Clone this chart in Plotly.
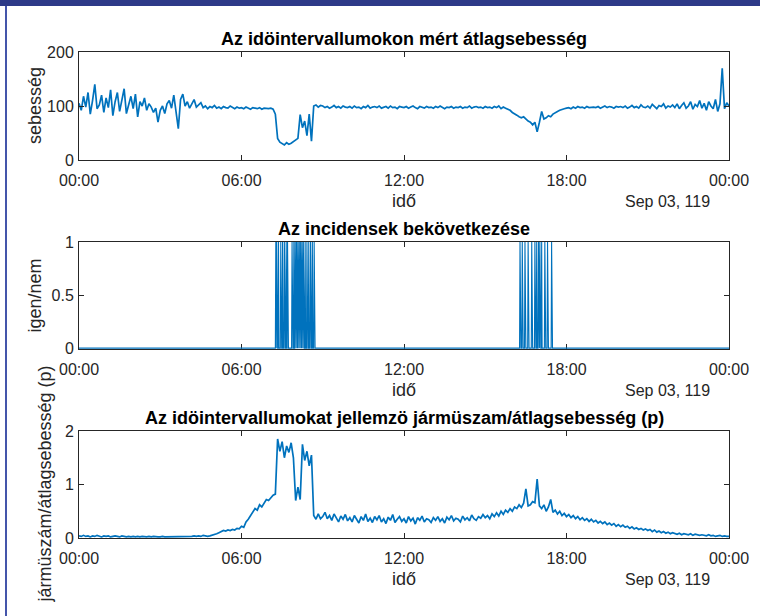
import plotly.graph_objects as go

# ---------------- data ----------------
step_min = 5  # sampling step of the speed / ratio series (minutes)

# average speed (sebesség), one value every 5 minutes, 00:00 .. 24:00
speed = [
    105, 92, 118, 98, 125, 85, 110, 140, 95, 102, 120, 88,      # 00h
    115, 97, 130, 82, 108, 125, 90, 112, 132, 86, 104, 118,     # 01h
    95, 122, 80, 108, 100, 115, 92, 104, 98, 88, 96, 70,        # 02h
    92, 100, 86, 104, 110, 96, 120, 88, 58, 112, 122, 100,      # 03h
    108, 96, 104, 112, 98, 102, 106, 97, 100, 95, 99, 97,       # 04h
    101, 96, 98, 95, 99, 97, 96, 100, 97, 95, 98, 96,           # 05h
    97, 95, 98, 96, 94, 97, 96, 95, 97, 94, 96, 95,             # 06h
    95, 96, 94, 85, 40, 33, 30, 28, 32, 29, 31, 34,             # 07h
    36, 40, 84, 60, 72, 45, 85, 35, 100, 102, 98, 101,          # 08h
    100, 97, 99, 96, 98, 101, 97, 99, 96, 100, 98, 97,          # 09h
    99, 96, 100, 97, 98, 95, 99, 97, 101, 96, 98, 99,           # 10h
    97, 100, 96, 98, 99, 96, 100, 97, 98, 95, 99, 98,           # 11h
    97, 99, 96, 98, 100, 97, 95, 99, 98, 96, 99, 97,            # 12h
    98, 96, 99, 97, 100, 98, 95, 98, 97, 99, 96, 98,            # 13h
    97, 99, 96, 98, 97, 100, 96, 98, 99, 97, 98, 96,            # 14h
    99, 97, 98, 96, 99, 97, 100, 95, 98, 96, 94, 92,            # 15h
    88, 86, 83, 80, 78, 80, 75, 72, 70, 65, 70, 52,             # 16h
    70, 90, 76, 78, 82, 80, 85, 88, 90, 92, 94, 95,             # 17h
    96, 97, 95, 98, 96, 99, 97, 98, 96, 99, 97, 98,             # 18h
    98, 97, 99, 96, 98, 100, 97, 99, 98, 96, 99, 98,            # 19h
    99, 97, 100, 96, 98, 101, 97, 99, 96, 102, 98, 97,          # 20h
    100, 96, 103, 98, 95, 101, 99, 104, 96, 100, 98, 102,       # 21h
    97, 104, 95, 101, 106, 96, 100, 108, 94, 103, 99, 110,      # 22h
    96, 105, 92, 108, 100, 95, 112, 90, 104, 170, 95, 106,      # 23h
    100,                                                        # 24:00
]

# vehicle count / average speed (p), one value every 5 minutes
ratio = [
    0.04, 0.03, 0.05, 0.03, 0.04, 0.02, 0.04, 0.03, 0.05, 0.03, 0.02, 0.04,  # 00h
    0.03, 0.04, 0.02, 0.03, 0.04, 0.03, 0.02, 0.04, 0.03, 0.02, 0.03, 0.02,  # 01h
    0.03, 0.02, 0.03, 0.02, 0.03, 0.02, 0.02, 0.03, 0.02, 0.03, 0.02, 0.02,  # 02h
    0.02, 0.03, 0.02, 0.02, 0.03, 0.02, 0.02, 0.03, 0.02, 0.02, 0.03, 0.02,  # 03h
    0.03, 0.02, 0.03, 0.04, 0.03, 0.04, 0.03, 0.05, 0.04, 0.03, 0.04, 0.05,  # 04h
    0.06, 0.08, 0.10, 0.12, 0.14, 0.13, 0.15, 0.14, 0.16, 0.15, 0.18, 0.17,  # 05h
    0.22, 0.20, 0.30, 0.35, 0.42, 0.48, 0.55, 0.52, 0.62, 0.58, 0.66, 0.72,  # 06h
    0.70, 0.76, 0.80, 0.82, 1.85, 1.62, 1.80, 1.50, 1.72, 1.60, 1.78, 1.50,  # 07h
    0.70, 0.95, 0.72, 1.75, 1.45, 1.62, 1.35, 1.55, 0.42, 0.35, 0.45, 0.36,  # 08h
    0.40, 0.48, 0.36, 0.42, 0.33, 0.45, 0.38, 0.30, 0.41, 0.35, 0.44, 0.32,  # 09h
    0.38, 0.30, 0.42, 0.35, 0.28, 0.40, 0.33, 0.45, 0.31, 0.37, 0.29, 0.40,  # 10h
    0.34, 0.42, 0.30, 0.36, 0.27, 0.39, 0.33, 0.44, 0.29, 0.35, 0.40, 0.31,  # 11h
    0.36, 0.28, 0.40, 0.32, 0.37, 0.26, 0.38, 0.33, 0.41, 0.30, 0.36, 0.34,  # 12h
    0.29, 0.38, 0.33, 0.40, 0.31, 0.36, 0.28, 0.39, 0.34, 0.42, 0.32, 0.37,  # 13h
    0.35, 0.30, 0.41, 0.34, 0.38, 0.32, 0.43, 0.36, 0.33, 0.40, 0.37, 0.44,  # 14h
    0.38, 0.42, 0.36, 0.45, 0.40, 0.47, 0.41, 0.50, 0.44, 0.52, 0.48, 0.55,  # 15h
    0.50, 0.58, 0.55, 0.62, 0.57, 0.65, 0.92, 0.60, 0.62, 0.68, 0.66, 1.10,  # 16h
    0.60, 0.55, 0.62, 0.50, 0.58, 0.72, 0.48, 0.52, 0.45, 0.50, 0.42, 0.46,  # 17h
    0.40, 0.44, 0.38, 0.42, 0.36, 0.40, 0.34, 0.38, 0.33, 0.36, 0.31, 0.35,  # 18h
    0.30, 0.33, 0.28, 0.31, 0.27, 0.30, 0.25, 0.28, 0.24, 0.27, 0.22, 0.25,  # 19h
    0.21, 0.24, 0.20, 0.22, 0.18, 0.21, 0.17, 0.19, 0.16, 0.18, 0.15, 0.17,  # 20h
    0.14, 0.16, 0.12, 0.15, 0.11, 0.13, 0.10, 0.12, 0.09, 0.11, 0.08, 0.10,  # 21h
    0.08, 0.07, 0.09, 0.06, 0.08, 0.07, 0.06, 0.08, 0.05, 0.07, 0.06, 0.05,  # 22h
    0.06, 0.05, 0.04, 0.06, 0.04, 0.05, 0.03, 0.04, 0.05, 0.03, 0.04, 0.03,  # 23h
    0.03,                                                                    # 24:00
]

# minutes of the day at which an incident was flagged (igen = 1)
incident_minutes = [
    436, 438, 442, 447, 451, 455, 459, 462,
    472, 476, 479, 482, 485, 488, 491, 494, 497, 501, 505, 509, 513, 517, 521,
    977, 982, 988, 995, 1003, 1010, 1014, 1018, 1021, 1025, 1032, 1038, 1047,
]

x_tickvals = [0, 6, 12, 18, 24]
x_ticktext = ["00:00", "06:00", "12:00", "18:00", "00:00"]

titles = [
    "Az idöintervallumokon mért átlagsebesség",
    "Az incidensek bekövetkezése",
    "Az idöintervallumokat jellemzö jármüszam/átlagsebesség (p)",
]
ylabels = ["sebesség", "igen/nem", "jármüszám/átlagsebesség (p)"]
xlabel = "idő"
date_label = "Sep 03, 119"

# ---------------- build ----------------
W, H = 760, 616
t5 = [i * step_min / 60 for i in range(len(speed))]
inc_set = set(incident_minutes)
t1 = [m / 60 for m in range(24 * 60 + 1)]
incident = [1 if m in inc_set else 0 for m in range(24 * 60 + 1)]

LINE = "#0072BD"
AX = "#262626"
FONT = "Liberation Sans, Arial, sans-serif"


def px(x):
    return x / W


def py(y):
    return 1 - y / H


fig = go.Figure()
fig.add_trace(go.Scatter(x=t5, y=speed, mode="lines", line=dict(color=LINE, width=1.7),
                         xaxis="x", yaxis="y", showlegend=False))
fig.add_trace(go.Scatter(x=t1, y=incident, mode="lines", line=dict(color=LINE, width=1.1),
                         xaxis="x2", yaxis="y2", showlegend=False))
fig.add_trace(go.Scatter(x=t5, y=ratio, mode="lines", line=dict(color=LINE, width=1.7),
                         xaxis="x3", yaxis="y3", showlegend=False))

# plot-area pixel boxes (left, right, top, bottom)
L, R = 79, 729
boxes = [(52, 160), (242, 349), (431, 538)]
yranges = [[0, 200], [-0.008, 1], [0, 2]]
ytickvals = [[0, 100, 200], [0, 0.5, 1], [0, 1, 2]]
yticktext = [["0", "100", "200"], ["0", "0.5", "1"], ["0", "1", "2"]]

common = dict(showline=True, linecolor=AX, linewidth=1, mirror="ticks", ticks="inside",
              ticklen=5, tickcolor=AX, tickwidth=1, showgrid=False, zeroline=False,
              automargin=False, tickfont=dict(family=FONT, size=16, color=AX))

layout = dict(width=W, height=H, margin=dict(l=0, r=0, t=0, b=0, pad=0, autoexpand=False),
              paper_bgcolor="white", plot_bgcolor="white", showlegend=False)

annotations = []
for k, (top, bot) in enumerate(boxes):
    sx = "" if k == 0 else str(k + 1)
    layout["xaxis" + sx] = dict(common, domain=[px(L), px(R)], range=[0, 24],
                                tickvals=x_tickvals, ticktext=x_ticktext,
                                anchor="y" + sx, ticklabelstandoff=6,
                                layer="below traces" if k == 1 else "above traces")
    layout["yaxis" + sx] = dict(common, domain=[py(bot), py(top)], range=yranges[k],
                                tickvals=ytickvals[k], ticktext=yticktext[k],
                                anchor="x" + sx, ticklabelstandoff=1)
    cx = (L + R) / 2
    annotations.append(dict(text="<b>" + titles[k] + "</b>", x=px(cx), y=py(top - 13),
                            xref="paper", yref="paper", showarrow=False,
                            xanchor="center", yanchor="middle",
                            font=dict(family=FONT, size=18, color="black")))
    annotations.append(dict(text=xlabel, x=px(cx), y=py(bot + 41), xref="paper", yref="paper",
                            showarrow=False, xanchor="center", yanchor="middle",
                            font=dict(family=FONT, size=18, color=AX)))
    annotations.append(dict(text=date_label, x=px(712), y=py(bot + 41), xref="paper", yref="paper",
                            showarrow=False, xanchor="right", yanchor="middle",
                            font=dict(family=FONT, size=16, color=AX)))
    ylx = 44 if k == 2 else 35
    annotations.append(dict(text=ylabels[k], x=px(ylx), y=py((top + bot) / 2), xref="paper",
                            yref="paper", showarrow=False, textangle=-90,
                            xanchor="center", yanchor="middle",
                            font=dict(family=FONT, size=18, color=AX)))

layout["annotations"] = annotations
layout["shapes"] = [
    dict(type="rect", xref="paper", yref="paper", x0=0, x1=1, y0=py(6), y1=1,
         fillcolor="#2D3A88", line=dict(width=0), layer="above"),
    dict(type="line", xref="paper", yref="paper", x0=px(6), x1=px(6), y0=0, y1=py(6),
         line=dict(color="#4455AA", width=2), layer="above"),
]
fig.update_layout(**layout)
fig.write_html("out.html", config={"displayModeBar": False},
               post_script="document.body.style.margin='0';document.body.style.padding='0';")
